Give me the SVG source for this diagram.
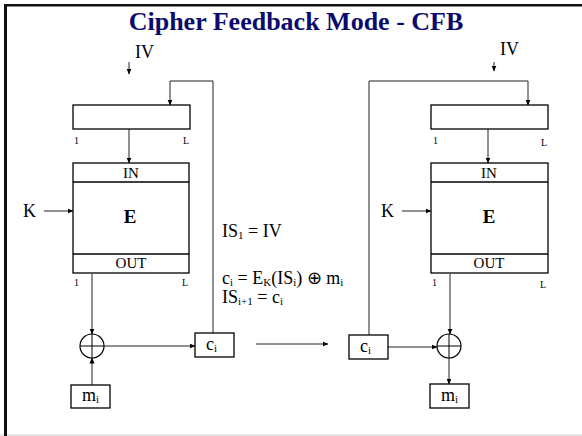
<svg xmlns="http://www.w3.org/2000/svg" width="582" height="436" viewBox="0 0 582 436">
<defs>
<marker id="ah" markerWidth="6" markerHeight="6" refX="5.5" refY="3" orient="auto" markerUnits="userSpaceOnUse">
<path d="M0,0.5 L6,3 L0,5.5 Z" fill="#000"/>
</marker>
<style>
.t{font-family:"Liberation Serif","Times New Roman",serif;fill:#000}
.box{fill:#fff;stroke:#000;stroke-width:1.3}
.ln{fill:none;stroke:#222;stroke-width:1}
.sm{font-size:10px}
.lbl{font-size:18px}
.sub{font-size:11px}
</style>
</defs>
<rect x="0" y="0" width="582" height="436" fill="#fff"/>
<rect x="0" y="434" width="582" height="2" fill="#e6e6e6"/>
<rect x="4" y="4" width="578" height="2.5" fill="#111"/>
<rect x="4" y="4" width="3" height="432" fill="#111"/>
<text class="t" x="296" y="30" text-anchor="middle" font-size="26" font-weight="bold" fill="#0b0b6e" style="fill:#0b0b6e">Cipher Feedback Mode - CFB</text>

<g id="connectors">
<line class="ln" x1="129" y1="62" x2="129" y2="74" marker-end="url(#ah)"/>
<polyline class="ln" points="213,333 213,81 170,81 170,105" marker-end="url(#ah)"/>
<line class="ln" x1="129" y1="129" x2="129" y2="163" marker-end="url(#ah)"/>
<line class="ln" x1="44" y1="211" x2="73" y2="211" marker-end="url(#ah)"/>
<line class="ln" x1="92" y1="274" x2="92" y2="334" marker-end="url(#ah)"/>
<line class="ln" x1="104" y1="346" x2="195" y2="346" marker-end="url(#ah)"/>
<line class="ln" x1="92" y1="385" x2="92" y2="358" marker-end="url(#ah)"/>
<line class="ln" x1="256" y1="344" x2="328" y2="344" marker-end="url(#ah)"/>
<line class="ln" x1="494" y1="62" x2="494" y2="71" marker-end="url(#ah)"/>
<polyline class="ln" points="369,335 369,81 528,81 528,105" marker-end="url(#ah)"/>
<line class="ln" x1="488" y1="129" x2="488" y2="163" marker-end="url(#ah)"/>
<line class="ln" x1="402" y1="211" x2="431" y2="211" marker-end="url(#ah)"/>
<line class="ln" x1="450" y1="274" x2="450" y2="334" marker-end="url(#ah)"/>
<line class="ln" x1="388" y1="347" x2="437" y2="347" marker-end="url(#ah)"/>
<line class="ln" x1="449" y1="358" x2="449" y2="384" marker-end="url(#ah)"/>
</g>

<g id="left-iv"><text class="t lbl" x="135" y="58">IV</text></g>
<g id="left-register">
<rect class="box" x="73" y="105" width="117" height="24"/>
<text class="t sm" x="74" y="144">1</text>
<text class="t sm" x="183" y="144">L</text>
</g>
<g id="left-k"><text class="t lbl" x="23" y="217">K</text></g>
<g id="left-E">
<rect class="box" x="73" y="163" width="116" height="110"/>
<line x1="73" y1="182" x2="189" y2="182" stroke="#000" stroke-width="1.3"/>
<line x1="73" y1="254" x2="189" y2="254" stroke="#000" stroke-width="1.3"/>
<text class="t" x="131" y="178" text-anchor="middle" font-size="15">IN</text>
<text class="t" x="130" y="223" text-anchor="middle" font-size="19" font-weight="bold">E</text>
<text class="t" x="131" y="268" text-anchor="middle" font-size="15">OUT</text>
<text class="t sm" x="74" y="286">1</text>
<text class="t sm" x="182" y="286">L</text>
</g>
<g id="left-xor">
<circle cx="92" cy="346" r="12" fill="none" stroke="#000" stroke-width="1.2"/>
<line x1="80" y1="346" x2="104" y2="346" stroke="#000" stroke-width="1"/>
<line x1="92" y1="334" x2="92" y2="358" stroke="#000" stroke-width="1"/>
</g>
<g id="left-ci">
<rect class="box" x="195" y="333" width="39" height="24"/>
<text class="t lbl" x="206" y="350">c<tspan class="sub" dy="2">i</tspan></text>
</g>
<g id="left-mi">
<rect class="box" x="71" y="385" width="39" height="23"/>
<text class="t lbl" x="82" y="401">m<tspan class="sub" dy="2">i</tspan></text>
</g>

<g id="formulas">
<text class="t lbl" x="222" y="237">IS<tspan class="sub" dy="2">1</tspan><tspan dy="-2"> = IV</tspan></text>
<text class="t lbl" x="222" y="284">c<tspan class="sub" dy="2">i</tspan><tspan dy="-2"> = E</tspan><tspan class="sub" dy="2">K</tspan><tspan dy="-2">(IS</tspan><tspan class="sub" dy="2">i</tspan><tspan dy="-2">) ⊕ m</tspan><tspan class="sub" dy="2">i</tspan></text>
<text class="t lbl" x="222" y="303">IS<tspan class="sub" dy="2">i+1</tspan><tspan dy="-2"> = c</tspan><tspan class="sub" dy="2">i</tspan></text>
</g>

<g id="right-iv"><text class="t lbl" x="500" y="55">IV</text></g>
<g id="right-register">
<rect class="box" x="431" y="105" width="117" height="24"/>
<text class="t sm" x="433" y="144">1</text>
<text class="t sm" x="541" y="146">L</text>
</g>
<g id="right-k"><text class="t lbl" x="381" y="217">K</text></g>
<g id="right-E">
<rect class="box" x="431" y="163" width="117" height="110"/>
<line x1="431" y1="182" x2="548" y2="182" stroke="#000" stroke-width="1.3"/>
<line x1="431" y1="254" x2="548" y2="254" stroke="#000" stroke-width="1.3"/>
<text class="t" x="489" y="178" text-anchor="middle" font-size="15">IN</text>
<text class="t" x="489" y="223" text-anchor="middle" font-size="19" font-weight="bold">E</text>
<text class="t" x="489" y="268" text-anchor="middle" font-size="15">OUT</text>
<text class="t sm" x="432" y="286">1</text>
<text class="t sm" x="540" y="288">L</text>
</g>
<g id="right-ci">
<rect class="box" x="349" y="335" width="39" height="24"/>
<text class="t lbl" x="360" y="352">c<tspan class="sub" dy="2">i</tspan></text>
</g>
<g id="right-xor">
<circle cx="449" cy="346" r="12" fill="none" stroke="#000" stroke-width="1.2"/>
<line x1="437" y1="346" x2="461" y2="346" stroke="#000" stroke-width="1"/>
<line x1="449" y1="334" x2="449" y2="358" stroke="#000" stroke-width="1"/>
</g>
<g id="right-mi">
<rect class="box" x="430" y="384" width="39" height="24"/>
<text class="t lbl" x="441" y="401">m<tspan class="sub" dy="2">i</tspan></text>
</g>
</svg>
